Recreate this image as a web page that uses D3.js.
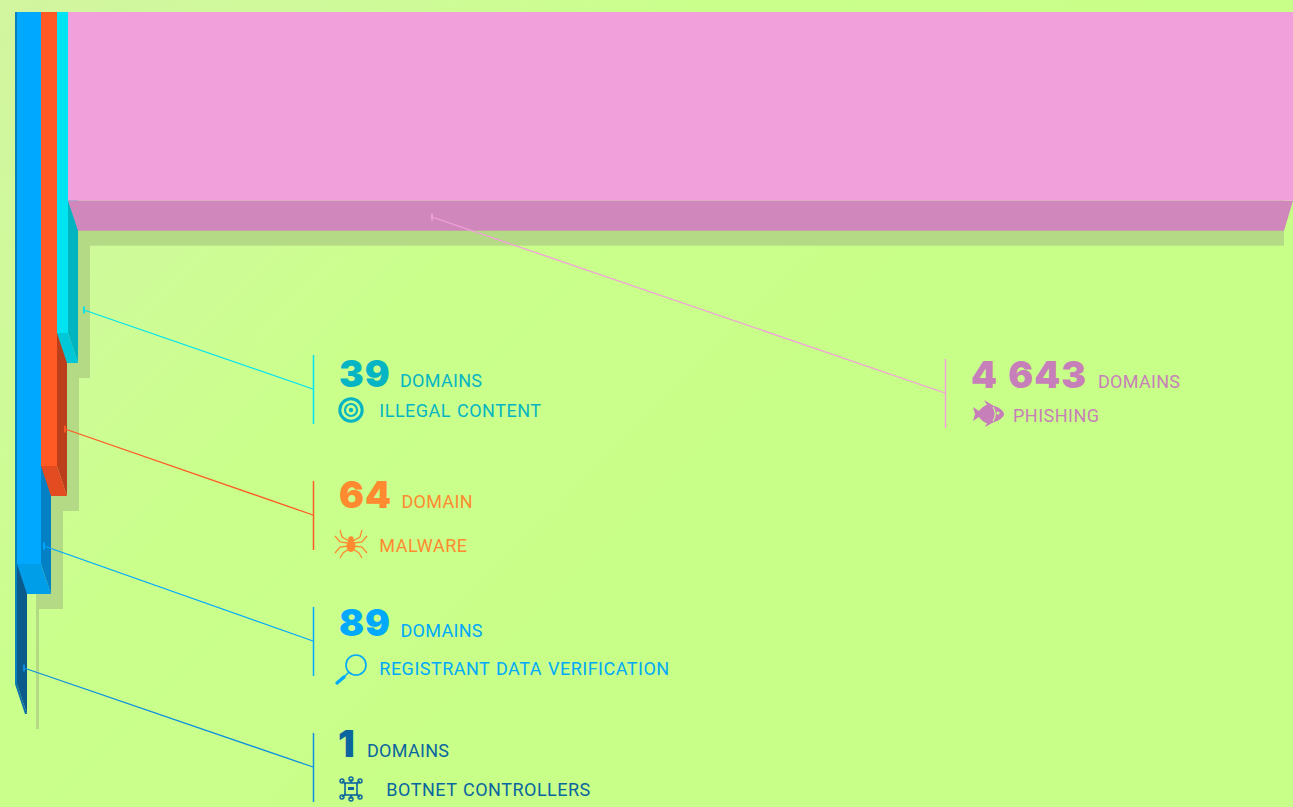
<!DOCTYPE html>
<html lang="en">
<head>
<meta charset="utf-8">
<title>Domains by abuse type</title>
<script src="https://cdn.jsdelivr.net/npm/d3@7"></script>
<style>
	html, body { margin: 0; padding: 0; overflow: hidden; }
	svg { display: block; }
	text { font-family: Roboto, sans-serif; }
	.count { font-family: Inter, sans-serif; font-weight: 900; letter-spacing: 1px; word-spacing: 2px; }
	.unit { letter-spacing: 0.3px; }
	.cat { letter-spacing: 0.5px; word-spacing: 1px; }
</style>
</head>
<body>
<script>
// data, left to right as the bars stand
var categories = ["BOTNET CONTROLLERS", "REGISTRANT DATA VERIFICATION", "MALWARE", "ILLEGAL CONTENT", "PHISHING"];
var domainCounts = [1, 89, 64, 39, 4643];
var unitLabels = ["DOMAINS", "DOMAINS", "DOMAIN", "DOMAINS", "DOMAINS"];
// how far down each bar reaches, % of the scale
var barDepths = [96, 78.86, 64.86, 45.86, 26.95];

var w = 1293, h = 807;
var liftX = 10, liftY = 30;    // bottom face offset
var shadowX = 12, shadowY = 15;
var rightLimit = 1284;
var minBar = 2.6;

var palette = [
	{ front: "#0a80bb", side: "#0a5a8c", lip: "#0a6ea8", line: "#0f8fe0", text: "#0b659f" },
	{ front: "#00a8ff", side: "#0480c4", lip: "#009ee8", line: "#00a8ff", text: "#00a9fb" },
	{ front: "#ff5a24", side: "#bc3f1c", lip: "#e24c20", line: "#ff5a24", text: "#ff8a30" },
	{ front: "#00e3f0", side: "#00b4c0", lip: "#00c8d8", line: "#00e3f0", text: "#06b5c3" },
	{ front: "#f2a0dc", side: "#d088bc", lip: "#d088bc", line: "#f2a0dc", text: "#c77fb9" }
];

// leader and label placement
var labels = [
	{ from: [24, 668], x: 313, y: 733, hit: 767, numX: 338, numY: 757, unitX: 367, unitY: 757, catX: 386.3, catY: 796, iconX: 351, iconY: 789 },
	{ from: [44, 546], x: 313, y: 607, hit: 641, numX: 339, numY: 636, unitX: 400.5, unitY: 637, catX: 379.3, catY: 675, iconX: 351, iconY: 669 },
	{ from: [65, 429], x: 313, y: 481, hit: 515, numX: 339, numY: 508, unitX: 401.5, unitY: 508, catX: 379.3, catY: 552, iconX: 351, iconY: 544 },
	{ from: [84, 310], x: 313, y: 355, hit: 389, numX: 339, numY: 387, unitX: 400, unitY: 387, catX: 379.3, catY: 417, iconX: 351, iconY: 410 },
	{ from: [432, 217], x: 945, y: 359, hit: 393, numX: 971, numY: 388, unitX: 1098, unitY: 388, catX: 1013, catY: 422, iconX: 988, iconY: 414 }
];

var widthScale = d3.scaleLinear().domain([0, d3.max(domainCounts)]).range([0, 1225]);
var yScale = d3.scaleLinear().domain([0, 100]).range([12, 712]);
var fmt = d3.formatLocale({ decimal: ".", thousands: " ", grouping: [3], currency: ["", ""] }).format(",");

var cursor = 15;
var bars = domainCounts.map(function(d, i) {
	var x0 = Math.floor(cursor);
	cursor += Math.max(minBar, widthScale(d));
	return { i: i, x0: x0, x1: Math.floor(cursor), y1: yScale(barDepths[i]), c: palette[i] };
});

var svg = d3.select("body").append("svg").attr("width", w).attr("height", h);

var defs = svg.append("defs");
var grad = defs.append("linearGradient").attr("id", "bg")
	.attr("gradientUnits", "userSpaceOnUse")
	.attr("x1", 0).attr("y1", 0).attr("x2", 650).attr("y2", 650);
grad.append("stop").attr("offset", "0%").attr("stop-color", "#d2f5a0");
grad.append("stop").attr("offset", "27%").attr("stop-color", "#cffa9a");
grad.append("stop").attr("offset", "54%").attr("stop-color", "#caff8c");
grad.append("stop").attr("offset", "100%").attr("stop-color", "#c8ff88");

svg.append("rect").attr("width", w).attr("height", h).attr("fill", "url(#bg)");

function shadowLeft(d) {
	return Math.max(d.x0 + 19, d.x1 + shadowX + liftX - Math.max(3, (d.x1 - d.x0) * 1.125));
}

// shadows go under everything
svg.selectAll("rect.shadow")
	.data(bars)
	.enter()
	.append("rect")
	.attr("class", "shadow")
	.attr("x", shadowLeft)
	.attr("y", yScale(0) + shadowY)
	.attr("width", function(d) {
		return Math.min(d.x1 + shadowX + liftX, rightLimit) - shadowLeft(d);
	})
	.attr("height", function(d) { return d.y1 + liftY - yScale(0); })
	.attr("fill", "#b5da85");

var bar = svg.selectAll("g.bar")
	.data(bars)
	.enter()
	.append("g")
	.attr("class", "bar");

bar.append("polygon")
	.attr("points", function(d) {
		return [[d.x1, yScale(0)], [d.x1 + liftX, yScale(0)], [d.x1 + liftX, d.y1 + liftY], [d.x1, d.y1]].join(" ");
	})
	.attr("fill", function(d) { return d.c.side; })
	.attr("display", function(d) { return d.x1 + liftX > rightLimit ? "none" : null; });

bar.append("polygon")
	.attr("points", function(d) {
		var right = Math.min(d.x1 + liftX, rightLimit);
		return [[d.x0, d.y1], [d.x1, d.y1], [right, d.y1 + liftY], [d.x0 + liftX, d.y1 + liftY]].join(" ");
	})
	.attr("fill", function(d) { return d.c.lip; });

bar.append("rect")
	.attr("x", function(d) { return d.x0; })
	.attr("y", yScale(0))
	.attr("width", function(d) { return d.x1 - d.x0; })
	.attr("height", function(d) { return d.y1 - yScale(0); })
	.attr("fill", function(d) { return d.c.front; });

// leaders
var label = svg.selectAll("g.label")
	.data(bars)
	.enter()
	.append("g")
	.attr("class", "label");

label.append("line")
	.attr("x1", function(d) { return labels[d.i].from[0]; })
	.attr("y1", function(d) { return labels[d.i].from[1]; })
	.attr("x2", function(d) { return labels[d.i].x; })
	.attr("y2", function(d) { return labels[d.i].hit; })
	.attr("stroke", function(d) { return d.c.line; })
	.attr("stroke-width", 1.3);

label.append("line")
	.attr("x1", function(d) { return labels[d.i].from[0]; })
	.attr("x2", function(d) { return labels[d.i].from[0]; })
	.attr("y1", function(d) { return labels[d.i].from[1] - 3.5; })
	.attr("y2", function(d) { return labels[d.i].from[1] + 3.5; })
	.attr("stroke", function(d) { return d.c.line; })
	.attr("stroke-width", 1.8);

label.append("line")
	.attr("x1", function(d) { return labels[d.i].x + 0.5; })
	.attr("x2", function(d) { return labels[d.i].x + 0.5; })
	.attr("y1", function(d) { return labels[d.i].y; })
	.attr("y2", function(d) { return labels[d.i].y + 69; })
	.attr("stroke", function(d) { return d.c.line; })
	.attr("stroke-width", 1.5);

label.append("text")
	.attr("class", "count")
	.attr("x", function(d) { return labels[d.i].numX; })
	.attr("y", function(d) { return labels[d.i].numY; })
	.attr("font-size", 37)
	.attr("fill", function(d) { return d.c.text; })
	.text(function(d) { return fmt(domainCounts[d.i]); });

label.append("text")
	.attr("class", "unit")
	.attr("x", function(d) { return labels[d.i].unitX; })
	.attr("y", function(d) { return labels[d.i].unitY; })
	.attr("font-size", 18)
	.attr("fill", function(d) { return d.c.text; })
	.text(function(d) { return unitLabels[d.i]; });

label.append("text")
	.attr("class", "cat")
	.attr("x", function(d) { return labels[d.i].catX; })
	.attr("y", function(d) { return labels[d.i].catY; })
	.attr("font-size", 18)
	.attr("fill", function(d) { return d.c.text; })
	.text(function(d) { return categories[d.i]; });

// icons, each drawn around its own centre
function botnetIcon(g, col) {
	g.append("rect").attr("x", -6).attr("y", -6).attr("width", 12).attr("height", 12)
		.attr("fill", "none").attr("stroke", col).attr("stroke-width", 1.6);
	g.append("rect").attr("x", -3).attr("y", -2).attr("width", 6).attr("height", 3).attr("fill", col);
	[[-9, -8], [9, -8], [-9, 8], [9, 8], [0, -10], [0, 10]].forEach(function(p) {
		g.append("line").attr("x1", p[0] * 0.6).attr("y1", p[1] * 0.6).attr("x2", p[0]).attr("y2", p[1])
			.attr("stroke", col).attr("stroke-width", 1.5);
		g.append("circle").attr("cx", p[0]).attr("cy", p[1]).attr("r", 2)
			.attr("fill", "none").attr("stroke", col).attr("stroke-width", 1.4);
	});
}

function magnifierIcon(g, col) {
	g.append("circle").attr("cx", 5).attr("cy", -4).attr("r", 10)
		.attr("fill", "none").attr("stroke", col).attr("stroke-width", 1.6);
	g.append("line").attr("x1", -2).attr("y1", 3).attr("x2", -7).attr("y2", 8)
		.attr("stroke", col).attr("stroke-width", 1.4);
	g.append("line").attr("x1", -7).attr("y1", 8).attr("x2", -14).attr("y2", 14)
		.attr("stroke", col).attr("stroke-width", 3.4).attr("stroke-linecap", "round");
}

function spiderIcon(g, col) {
	g.append("ellipse").attr("cx", 0).attr("cy", 2).attr("rx", 4.5).attr("ry", 6).attr("fill", col);
	g.append("circle").attr("cx", 0).attr("cy", -5).attr("r", 2.8).attr("fill", col);
	var legs = [
		"M-2,-3 L-9,-7 L-11,-14", "M-3,-1 L-11,-2 L-16,-8", "M-3,2 L-11,3 L-16,9", "M-2,5 L-8,9 L-11,14"
	];
	legs.forEach(function(l) {
		g.append("path").attr("d", l).attr("fill", "none").attr("stroke", col).attr("stroke-width", 1.3);
		g.append("path").attr("d", l).attr("transform", "scale(-1,1)").attr("fill", "none").attr("stroke", col).attr("stroke-width", 1.3);
	});
}

function targetIcon(g, col) {
	g.append("circle").attr("r", 11.2).attr("fill", "none").attr("stroke", col).attr("stroke-width", 3);
	g.append("circle").attr("r", 6).attr("fill", "none").attr("stroke", col).attr("stroke-width", 2.2);
	g.append("circle").attr("r", 2.2).attr("fill", col);
}

function fishIcon(g, col) {
	g.append("path")
		.attr("d", "M-15,-7 L-9,-3 C-5,-8 -2,-9 -1,-9 L-4,-14 L6,-8 C11,-7 16,-3 16,0 C16,3 11,7 6,8 L-3,13 L-1,9 C-3,9 -6,7 -9,3 L-15,7 L-13,0 Z")
		.attr("fill", col);
	g.append("path").attr("d", "M5,-7 C8,-3 8,3 5,7").attr("fill", "none").attr("stroke", "#c8fe8a").attr("stroke-width", 1.2);
	g.append("circle").attr("cx", 10).attr("cy", -1).attr("r", 1.6).attr("fill", "#c8fe8a");
}

var icons = [botnetIcon, magnifierIcon, spiderIcon, targetIcon, fishIcon];

label.append("g")
	.attr("transform", function(d) { return "translate(" + labels[d.i].iconX + "," + labels[d.i].iconY + ")"; })
	.each(function(d) { icons[d.i](d3.select(this), d.c.text); });
</script>
</body>
</html>
